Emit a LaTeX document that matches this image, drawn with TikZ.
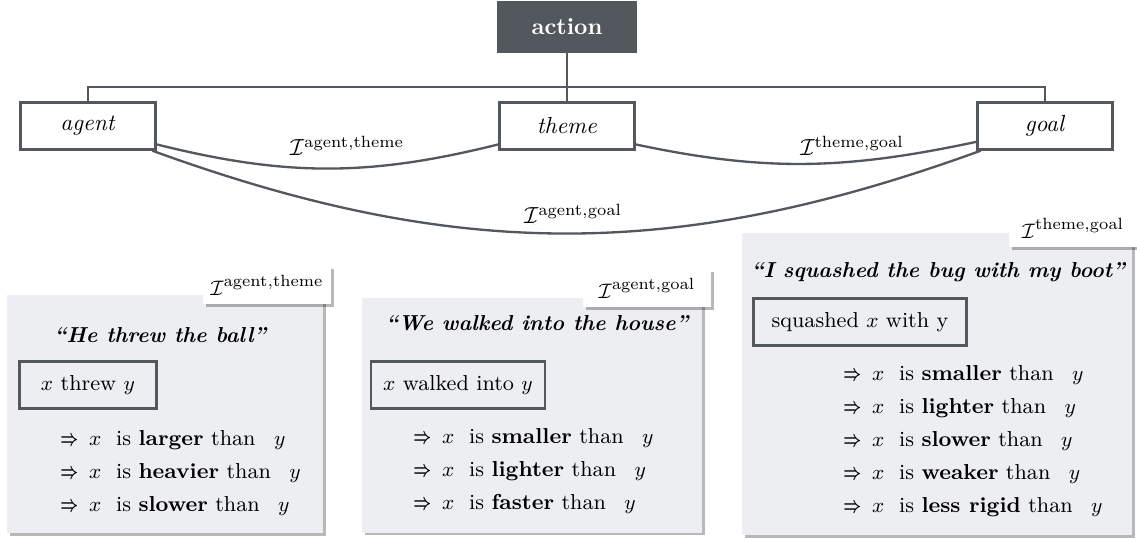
\documentclass[tikz,border=0pt]{standalone}
\usepackage{amsmath}
\usepackage{tikz}
\usetikzlibrary{shadows}
\usepackage{xcolor}

\definecolor{slate}{HTML}{53575E}
\definecolor{panelgray}{HTML}{ECEEF1}
\newcommand\px{0.43pt} % one pixel of the layout
\newcommand\ipair[1]{$\mathcal{I}^{\mathrm{#1}}$}
\newcommand\sizeline[1]{\scalebox{0.72}[1.05]{$\boldsymbol{\Rightarrow}$}\enspace$x$\ \ is \textbf{#1} than\ \ \,$y$}

\begin{document}
\begin{tikzpicture}[x=\px, y=-\px,
    box/.style={draw=slate, line width=1pt, minimum width=135*\px, minimum height=47*\px, inner sep=0pt},
    link/.style={draw=slate, line width=1pt},
    small/.style={font=\fontsize{9.3}{11}\selectfont},
    title/.style={font=\fontsize{9.3}{11}\selectfont\bfseries\itshape},
    panel/.style={fill=panelgray, inner sep=0pt,
      drop shadow={shadow xshift=1.2pt, shadow yshift=-1.2pt, fill=black, opacity=0.28}},
    tag/.style={small, fill=white, inner sep=0pt, minimum width=128*\px, minimum height=38*\px,
      drop shadow={shadow xshift=1.2pt, shadow yshift=-1.2pt, fill=black, opacity=0.28}},
    rule/.style={small, anchor=west, inner sep=0pt}]
    \useasboundingbox (0,0) rectangle (1137,539);

    % --- action and its roles ---
    \node[box, fill=slate, text=white, font=\bfseries, minimum width=137*\px, minimum height=50*\px] (action) at (567,27) {action};
    \node[box] (agent) at (88,126) {\textit{agent}};
    \node[box] (theme) at (567,126) {\textit{theme}};
    \node[box] (goal) at (1045,126) {\textit{goal}};
    \coordinate (fork) at (567,87);
    \draw[link] (action) -- (theme);
    \draw[link] (agent.north) |- (fork) -| (goal.north);

    % --- interactions between the roles ---
    \draw[link] (agent.-15) to[out=-14, in=194] (theme.195);
    \draw[link] (theme.-15) to[out=-12, in=192] (goal.193);
    \draw[link] (agent.-21) to[out=-20, in=200] (goal.201);
    \node (iat) at (347,146) {\ipair{agent,theme}};
    \node (itg) at (852,146) {\ipair{theme,goal}};
    \node (iag) at (573,214) {\ipair{agent,goal}};

    % --- panel 1: agent/theme ---
    \node[panel, minimum width=316*\px, minimum height=238*\px] (threwpanel) at (165,414) {};
    \node[tag] (threwtag) at (267,285) {\ipair{agent,theme}};
    \node[title] (threwtitle) at (160,335) {``He threw the ball''};
    \node[box, small, minimum width=137*\px] (threwbox) at (88,385) {$x$ threw\ $y$};
    \foreach \w [count=\i] in {larger,heavier,slower}
      \node[rule] (threw\i) at (60,{407+33*\i}) {\sizeline{\w}};

    % --- panel 2: agent/goal ---
    \node[panel, minimum width=340*\px, minimum height=235*\px] (walkpanel) at (532,415) {};
    \node[tag] (walktag) at (647,288) {\ipair{agent,goal}};
    \node[title] (walktitle) at (537,323) {``We walked into the house''};
    \node[box, small, minimum width=174*\px] (walkbox) at (458,385) {$x$ walked into $y$};
    \foreach \w [count=\i] in {smaller,lighter,faster}
      \node[rule] (walk\i) at (413,{405+33*\i}) {\sizeline{\w}};

    % --- panel 3: theme/goal ---
    \node[panel, minimum width=390*\px, minimum height=302*\px] (squashpanel) at (937,384) {};
    \node[tag] (squashtag) at (1073,228) {\ipair{theme,goal}};
    \node[title] (squashtitle) at (938,272) {``I squashed the bug with my boot''};
    \node[box, small, minimum width=213*\px] (squashbox) at (860,322) {squashed $x$ with y};
    \foreach \w [count=\i] in {smaller,lighter,slower,weaker,less rigid}
      \node[rule] (squash\i) at (843,{342+33*\i}) {\sizeline{\w}};
\end{tikzpicture}
\end{document}
